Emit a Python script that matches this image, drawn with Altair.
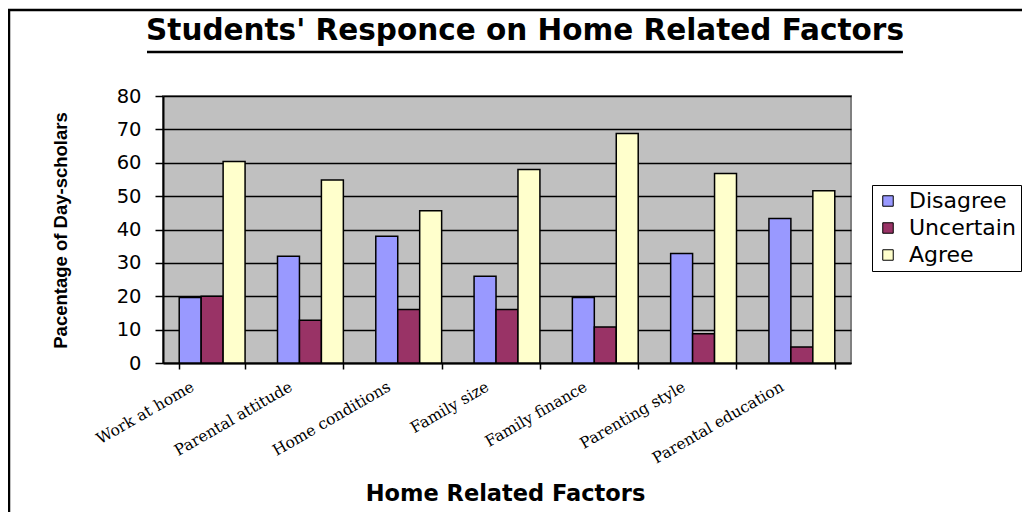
import altair as alt
import pandas as pd

categories = ["Work at home", "Parental attitude", "Home conditions", "Family size",
              "Family finance", "Parenting style", "Parental education"]
series = ["Disagree", "Uncertain", "Agree"]
disagree = [19.6, 32, 38, 26, 19.6, 32.8, 43.3]
uncertain = [20, 12.8, 16, 16, 10.8, 8.8, 4.8]
agree = [60.4, 54.8, 45.6, 58, 68.8, 56.8, 51.6]
colors = ["#9999FF", "#993366", "#FFFFCC"]
y_ticks = [0, 10, 20, 30, 40, 50, 60, 70, 80]
title_text = "Students' Responce on Home Related Factors"

rows = []
for s, vals in zip(series, [disagree, uncertain, agree]):
    for c, v in zip(categories, vals):
        rows.append({"factor": c, "response": s, "value": v})
df = pd.DataFrame(rows)

W, H = 688, 267

bars = alt.Chart(df).mark_bar(stroke="black", strokeWidth=1.5).encode(
    x=alt.X("factor:N", sort=categories,
            scale=alt.Scale(paddingInner=0.33, paddingOuter=0.165),
            axis=alt.Axis(title="Home Related Factors", labelAngle=-30, labelAlign="right",
                          labelBaseline="middle", labelOffset=-20, labelPadding=16,
                          labelFont="DejaVu Serif", labelFontSize=15.5, labelColor="black",
                          tickBand="extent", tickSize=6, tickColor="black", tickWidth=1.5,
                          domainColor="black", domainWidth=2, grid=False,
                          titleFont="DejaVu Sans", titleFontSize=22.5, titleFontWeight="bold",
                          titleColor="black", titleX=342, titleY=130, titleAlign="center",
                          titleBaseline="middle")),
    xOffset=alt.XOffset("response:N", sort=series, scale=alt.Scale(paddingInner=0, paddingOuter=0)),
    y=alt.Y("value:Q", scale=alt.Scale(domain=[0, 80], nice=False),
            axis=alt.Axis(title="Pacentage of Day-scholars", values=y_ticks,
                          labelFont="DejaVu Sans", labelFontSize=19.5, labelColor="black",
                          labelPadding=14, tickSize=8, tickColor="black", tickWidth=1.5,
                          domainColor="black", domainWidth=2, grid=True, gridColor="black",
                          gridWidth=1.5, titleFont="Liberation Sans", titleFontSize=18.5,
                          titleFontWeight="bold", titleColor="black", titleX=-103, titleY=134,
                          titleAngle=-90, titleAlign="center", titleBaseline="middle")),
    color=alt.Color("response:N", sort=series,
                    scale=alt.Scale(domain=series, range=colors),
                    legend=alt.Legend(title=None, orient="none", legendX=709, legendY=89,
                                      symbolType="square", symbolSize=110,
                                      symbolStrokeColor="black", symbolStrokeWidth=1,
                                      labelFont="DejaVu Sans", labelFontSize=22,
                                      labelColor="black", labelOffset=10, rowPadding=5,
                                      padding=5, strokeColor="black", fillColor="white",
                                      cornerRadius=0)),
)

one = pd.DataFrame({"t": [title_text]})

frame = alt.Chart(one).mark_rect(fill="white", fillOpacity=0, stroke="black", strokeWidth=2.5).encode(
    x=alt.value(-154), x2=alt.value(W + 200), y=alt.value(-86), y2=alt.value(H + 200)
)

title = alt.Chart(one).mark_text(font="DejaVu Sans", fontSize=29.5, fontWeight="bold",
                                 color="black", align="center", baseline="alphabetic").encode(
    text="t:N", x=alt.value(362), y=alt.value(-56)
)

underline = alt.Chart(one).mark_rule(color="black", strokeWidth=2.5).encode(
    x=alt.value(-16), x2=alt.value(740), y=alt.value(-44)
)

chart = alt.layer(frame, bars, title, underline).properties(
    width=W, height=H,
    autosize=alt.AutoSizeParams(type="none"),
    padding={"left": 155, "top": 88, "right": 171, "bottom": 149},
).configure(background="white").configure_view(fill="#C0C0C0", stroke="#808080", strokeWidth=2)

chart.save("out.html", embed_options={"renderer": "svg", "actions": False})
